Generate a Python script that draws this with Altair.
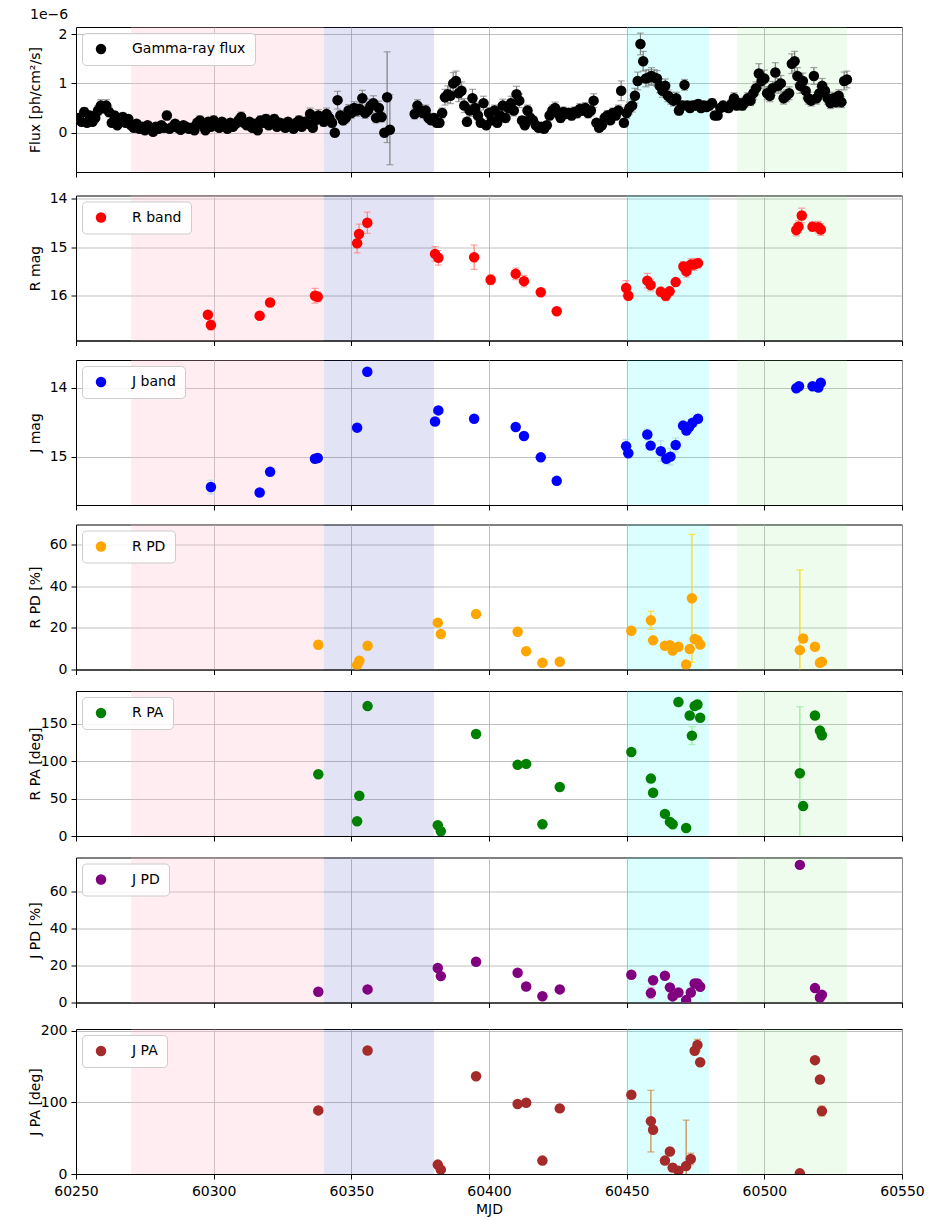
import altair as alt
import pandas as pd

# ------------------------------------------------------------------ data
# Gamma-ray flux (units of 1e-6 ph/cm^2/s), daily bins
flux_mjd = list(range(60251, 60365)) + list(range(60373, 60531))
flux_val = [
    0.30, 0.22, 0.42, 0.20, 0.35, 0.22, 0.30, 0.45, 0.55, 0.50,
    0.55, 0.42, 0.20, 0.35, 0.15, 0.25, 0.32, 0.20, 0.28, 0.15,
    0.10, 0.18, 0.08, 0.12, 0.05, 0.15, 0.10, 0.02, 0.12, 0.08,
    0.15, 0.10, 0.35, 0.08, 0.12, 0.18, 0.10, 0.06, 0.15, 0.12,
    0.08, 0.10, 0.05, 0.20, 0.25, 0.15, 0.05, 0.22, 0.12, 0.25,
    0.18, 0.10, 0.22, 0.15, 0.08, 0.20, 0.12, 0.18, 0.25, 0.32,
    0.20, 0.15, 0.22, 0.10, 0.18, 0.05, 0.25, 0.20, 0.28, 0.15,
    0.22, 0.28, 0.12, 0.20, 0.18, 0.10, 0.22, 0.15, 0.08, 0.20,
    0.25, 0.12, 0.22, 0.18, 0.38, 0.10, 0.25, 0.35, 0.30, 0.22,
    0.38, 0.30, 0.20, 0.00, 0.66, 0.35, 0.25, 0.30, 0.45, 0.40,
    0.50, 0.45, 0.48, 0.70, 0.40, 0.45, 0.55, 0.60, 0.30, 0.50,
    0.32, 0.00, 0.72, 0.06,
    0.38, 0.55, 0.45, 0.40, 0.45, 0.30, 0.25, 0.30,
    0.20, 0.20, 0.40, 0.72, 0.78, 0.75, 1.00, 1.05, 0.80, 0.85,
    0.55, 0.22, 0.45, 0.70, 0.50, 0.35, 0.20, 0.60, 0.15, 0.40,
    0.25, 0.45, 0.20, 0.35, 0.55, 0.30, 0.50, 0.60, 0.45, 0.78,
    0.65, 0.25, 0.15, 0.45, 0.30, 0.25, 0.15, 0.10, 0.12, 0.08,
    0.15, 0.35, 0.45, 0.50, 0.40, 0.30, 0.42, 0.38, 0.40, 0.35,
    0.42, 0.40, 0.48, 0.45, 0.50, 0.40, 0.45, 0.65, 0.20, 0.10,
    0.15, 0.30, 0.35, 0.25, 0.40, 0.35, 0.45, 0.85, 0.20, 0.40,
    0.50, 0.55, 0.75, 1.05, 1.80, 1.45, 1.10, 1.12, 1.15, 1.12,
    1.10, 0.95, 0.85, 0.95, 0.75, 0.70, 0.65, 0.70, 0.45, 0.55,
    0.97, 0.55, 0.50, 0.55, 0.55, 0.58, 0.50, 0.55, 0.52, 0.55,
    0.60, 0.35, 0.35, 0.50, 0.55, 0.52, 0.50, 0.58, 0.70, 0.55,
    0.60, 0.55, 0.62, 0.70, 0.65, 0.80, 0.90, 1.20, 1.05, 1.10,
    0.80, 0.75, 0.90, 1.22, 0.95, 1.00, 0.70, 0.75, 0.80, 1.40,
    1.45, 1.15, 0.95, 1.05, 0.85, 0.70, 0.65, 1.15, 0.70, 0.80,
    0.95, 0.85, 0.70, 0.60, 0.70, 0.62, 0.75, 0.62, 1.05, 1.08,
]
flux_err = [
    0.08, 0.07, 0.09, 0.07, 0.08, 0.07, 0.08, 0.10, 0.12, 0.11,
    0.12, 0.10, 0.07, 0.08, 0.06, 0.07, 0.08, 0.06, 0.07, 0.06,
    0.06, 0.07, 0.06, 0.06, 0.05, 0.06, 0.06, 0.05, 0.06, 0.06,
    0.06, 0.06, 0.09, 0.06, 0.06, 0.07, 0.06, 0.05, 0.06, 0.06,
    0.06, 0.06, 0.05, 0.08, 0.09, 0.07, 0.05, 0.08, 0.06, 0.09,
    0.07, 0.06, 0.08, 0.07, 0.06, 0.08, 0.06, 0.07, 0.09, 0.10,
    0.08, 0.07, 0.08, 0.06, 0.07, 0.05, 0.09, 0.08, 0.09, 0.07,
    0.08, 0.09, 0.06, 0.08, 0.07, 0.06, 0.08, 0.07, 0.06, 0.08,
    0.09, 0.06, 0.08, 0.07, 0.12, 0.06, 0.09, 0.12, 0.10, 0.09,
    0.12, 0.10, 0.09, 0.06, 0.18, 0.10, 0.09, 0.10, 0.12, 0.11,
    0.13, 0.12, 0.12, 0.16, 0.11, 0.12, 0.13, 0.15, 0.10, 0.14,
    0.10, 0.06, 0.92, 0.71,
    0.10, 0.12, 0.11, 0.10, 0.11, 0.09, 0.08, 0.09,
    0.08, 0.08, 0.10, 0.16, 0.17, 0.16, 0.22, 0.20, 0.17, 0.18,
    0.14, 0.08, 0.12, 0.18, 0.12, 0.10, 0.08, 0.14, 0.07, 0.11,
    0.08, 0.11, 0.08, 0.10, 0.13, 0.09, 0.12, 0.14, 0.11, 0.16,
    0.14, 0.08, 0.07, 0.11, 0.09, 0.08, 0.07, 0.06, 0.07, 0.06,
    0.07, 0.09, 0.11, 0.12, 0.10, 0.09, 0.10, 0.09, 0.10, 0.09,
    0.10, 0.10, 0.11, 0.10, 0.11, 0.10, 0.11, 0.14, 0.07, 0.06,
    0.07, 0.09, 0.10, 0.08, 0.10, 0.09, 0.11, 0.20, 0.08, 0.11,
    0.12, 0.13, 0.15, 0.18, 0.22, 0.20, 0.17, 0.16, 0.17, 0.16,
    0.16, 0.14, 0.13, 0.14, 0.12, 0.12, 0.11, 0.12, 0.09, 0.10,
    0.11, 0.09, 0.08, 0.09, 0.09, 0.09, 0.08, 0.09, 0.08, 0.09,
    0.09, 0.07, 0.07, 0.08, 0.09, 0.08, 0.08, 0.09, 0.11, 0.09,
    0.10, 0.09, 0.10, 0.11, 0.10, 0.12, 0.13, 0.20, 0.16, 0.17,
    0.13, 0.12, 0.14, 0.20, 0.15, 0.16, 0.12, 0.12, 0.13, 0.20,
    0.20, 0.17, 0.15, 0.16, 0.14, 0.12, 0.11, 0.17, 0.12, 0.13,
    0.15, 0.14, 0.12, 0.11, 0.12, 0.11, 0.12, 0.11, 0.18, 0.17,
]

# R band photometry
r_mjd = [60297.9, 60299.0, 60316.7, 60320.5, 60336.8, 60337.8, 60352.1, 60352.8,
         60355.8, 60380.4, 60381.6, 60394.6, 60400.6, 60409.7, 60412.7, 60418.8,
         60424.6, 60449.8, 60450.6, 60457.5, 60458.7, 60462.4, 60464.2, 60465.6,
         60467.8, 60470.6, 60471.7, 60473.3, 60474.5, 60475.9, 60511.6, 60512.4,
         60513.6, 60517.5, 60519.6, 60520.5]
r_mag = [16.39, 16.60, 16.41, 16.14, 16.00, 16.02, 14.92, 14.73,
         14.50, 15.14, 15.22, 15.21, 15.67, 15.55, 15.70, 15.93,
         16.32, 15.84, 16.00, 15.69, 15.78, 15.92, 16.00, 15.91,
         15.72, 15.40, 15.50, 15.36, 15.36, 15.33, 14.65, 14.58,
         14.35, 14.58, 14.59, 14.64]
r_mag_err = [0.05, 0.10, 0.04, 0.05, 0.15, 0.10, 0.20, 0.20,
             0.22, 0.15, 0.15, 0.25, 0.10, 0.12, 0.12, 0.05,
             0.03, 0.15, 0.08, 0.15, 0.12, 0.10, 0.10, 0.08,
             0.06, 0.10, 0.12, 0.12, 0.12, 0.10, 0.12, 0.12,
             0.15, 0.10, 0.12, 0.12]

# J band photometry
j_mjd = [60299.0, 60316.7, 60320.5, 60336.8, 60337.8, 60352.1, 60355.8, 60380.4,
         60381.6, 60394.6, 60409.7, 60412.7, 60418.8, 60424.6, 60449.8, 60450.6,
         60457.5, 60458.7, 60462.4, 60464.4, 60465.9, 60467.8, 60470.5, 60471.7,
         60472.7, 60473.9, 60475.9, 60511.6, 60512.6, 60517.5, 60519.6, 60520.5]
j_mag = [15.44, 15.52, 15.22, 15.03, 15.02, 14.58, 13.77, 14.49,
         14.33, 14.45, 14.57, 14.70, 15.01, 15.35, 14.85, 14.95,
         14.68, 14.84, 14.92, 15.03, 15.00, 14.83, 14.55, 14.62,
         14.57, 14.51, 14.45, 14.01, 13.98, 13.98, 14.00, 13.93]
j_mag_err = [0.10, 0.03, 0.02, 0.02, 0.02, 0.06, 0.02, 0.02,
             0.03, 0.02, 0.02, 0.02, 0.02, 0.03, 0.10, 0.03,
             0.08, 0.03, 0.15, 0.08, 0.12, 0.10, 0.05, 0.04,
             0.03, 0.03, 0.02, 0.02, 0.02, 0.02, 0.02, 0.02]

# R band polarimetry
rpol_mjd = [60338.0, 60352.1, 60352.9, 60355.9, 60381.4, 60382.5, 60395.3, 60410.4,
            60413.5, 60419.4, 60425.7, 60451.7, 60458.8, 60459.6, 60463.9, 60465.7,
            60466.7, 60468.8, 60471.6, 60472.9, 60473.7, 60474.7, 60475.7, 60476.7,
            60512.9, 60514.1, 60518.4, 60520.2, 60520.9]
r_pd = [11.9, 2.1, 4.2, 11.4, 22.5, 17.0, 26.6, 18.1,
        8.8, 3.2, 3.7, 18.6, 23.6, 14.0, 11.4, 11.7,
        9.1, 10.9, 2.4, 9.8, 34.2, 14.6, 14.1, 12.0,
        9.3, 14.9, 10.9, 3.2, 3.7]
r_pd_err = [0.5, 0.5, 0.5, 0.5, 0.5, 0.5, 0.5, 0.5,
            0.5, 0.5, 0.5, 0.8, 4.4, 0.8, 0.6, 0.6,
            0.6, 0.6, 0.8, 0.8, 30.7, 1.0, 1.0, 0.8,
            38.5, 0.8, 0.6, 0.6, 0.6]
r_pa = [82.6, 19.8, 53.9, 173.8, 14.4, 6.3, 136.5, 95.2,
        96.5, 15.7, 65.6, 112.3, 76.8, 57.9, 29.6, 18.9,
        15.7, 179.2, 10.8, 161.2, 134.3, 173.8, 176.0, 158.1,
        84.0, 40.0, 161.2, 141.0, 134.7]
r_pa_err = [1, 3, 2, 1, 1, 1, 1, 1,
            1, 2, 2, 1, 4, 2, 2, 2,
            2, 2, 3, 3, 12, 3, 6, 2,
            89, 2, 2, 2, 2]

# J band polarimetry
jpol_mjd = [60338.0, 60355.9, 60381.4, 60382.5, 60395.3, 60410.4, 60413.5, 60419.4,
            60425.7, 60451.7, 60458.8, 60459.6, 60463.9, 60465.7, 60466.7, 60468.8,
            60471.6, 60473.3, 60474.7, 60475.7, 60476.7, 60512.9, 60518.4, 60520.2,
            60520.9]
j_pd = [5.8, 7.1, 18.7, 14.3, 22.1, 16.1, 8.7, 3.4,
        7.1, 15.0, 5.1, 12.1, 14.5, 8.2, 3.3, 5.4,
        1.3, 5.4, 10.3, 10.3, 8.5, 74.6, 7.8, 2.7,
        4.2]
j_pd_err = [0.5, 0.5, 0.6, 0.6, 0.6, 0.5, 0.5, 0.5,
            0.5, 0.8, 3.0, 2.0, 1.5, 1.0, 1.0, 1.0,
            1.0, 1.0, 1.0, 1.0, 1.0, 1.5, 0.8, 0.8,
            0.8]
j_pa = [88.8, 172.4, 13.1, 6.1, 136.4, 97.7, 99.5, 18.7,
        91.6, 110.7, 73.8, 61.7, 18.7, 31.3, 8.9, 4.7,
        11.2, 21.0, 172.0, 180.0, 156.0, 0.9, 158.9, 131.8,
        87.9]
j_pa_err = [2, 2, 2, 2, 2, 2, 2, 2,
            2, 2, 43, 3, 3, 3, 5, 3,
            64, 8, 3, 8, 3, 1, 2, 2,
            7]

# Shaded periods
region_start = [60270, 60340, 60450, 60490]
region_end = [60340, 60380, 60480, 60530]

x_ticks = [60250, 60300, 60350, 60400, 60450, 60500, 60550]

# ------------------------------------------------------------------ style
FONT = "DejaVu Sans"
W, H = 826, 145
X_DOMAIN = [60250, 60550]
REGION_FILL = ["#ffc0cb", "#4444c3", "#00ffff", "#90ee90"]
REGION_OPACITY = [0.28, 0.15, 0.14, 0.15]


def make_df(mjd, val, err, label):
    return pd.DataFrame({
        "mjd": mjd,
        "val": val,
        "lo": [v - e for v, e in zip(val, err)],
        "hi": [v + e for v, e in zip(val, err)],
        "series": label,
    })


def xenc(field, bottom):
    return alt.X(
        f"{field}:Q",
        scale=alt.Scale(domain=X_DOMAIN, nice=False, zero=False),
        axis=alt.Axis(values=x_ticks, format="d", labels=bottom, labelPadding=5,
                      title="MJD" if bottom else None, titlePadding=4,
                      labelFlush=False),
    )


def yenc(field, ytitle, ydom, yticks, rev):
    return alt.Y(
        f"{field}:Q",
        scale=alt.Scale(domain=ydom, nice=False, zero=False, reverse=rev),
        axis=alt.Axis(values=yticks, format="d", title=ytitle, titleX=-34,
                      labelPadding=4),
    )


def panel(df, label, color, errcolor, ytitle, ydom, yticks, rev=False,
          bottom=False, title=None):
    layers = []
    for i in range(len(region_start)):
        rdf = pd.DataFrame({"start": [region_start[i]], "end": [region_end[i]]})
        layers.append(
            alt.Chart(rdf).mark_rect(color=REGION_FILL[i], opacity=REGION_OPACITY[i])
            .encode(x=xenc("start", bottom), x2="end:Q",
                    y=alt.value(0), y2=alt.value(H))
        )
    base = alt.Chart(df)
    layers.append(
        base.mark_rule(color=errcolor, strokeWidth=1.2, clip=True)
        .encode(x=xenc("mjd", bottom), y=yenc("lo", ytitle, ydom, yticks, rev), y2="hi:Q")
    )
    for f in ("lo", "hi"):
        layers.append(
            base.mark_tick(color=errcolor, orient="horizontal", size=7, thickness=1.2, clip=True)
            .encode(x=xenc("mjd", bottom), y=yenc(f, ytitle, ydom, yticks, rev))
        )
    layers.append(
        base.mark_circle(size=110, opacity=1, clip=True)
        .encode(
            x=xenc("mjd", bottom),
            y=yenc("val", ytitle, ydom, yticks, rev),
            color=alt.Color(
                "series:N",
                scale=alt.Scale(domain=[label], range=[color]),
                legend=alt.Legend(
                    title=None, orient="top-left", offset=6, padding=9,
                    fillColor="rgba(255,255,255,0.85)", strokeColor="#cccccc",
                    cornerRadius=4, labelFontSize=14, labelFont=FONT,
                    labelColor="black", symbolType="circle", symbolSize=110,
                    symbolStrokeWidth=0, symbolOffset=3, labelOffset=24,
                ),
            ),
        )
    )
    props = dict(width=W, height=H)
    if title is not None:
        props["title"] = title
    return alt.layer(*layers).properties(**props)


flux_df = make_df(flux_mjd, flux_val, flux_err, "Gamma-ray flux")
r_df = make_df(r_mjd, r_mag, r_mag_err, "R band")
j_df = make_df(j_mjd, j_mag, j_mag_err, "J band")
rpd_df = make_df(rpol_mjd, r_pd, r_pd_err, "R PD")
rpa_df = make_df(rpol_mjd, r_pa, r_pa_err, "R PA")
jpd_df = make_df(jpol_mjd, j_pd, j_pd_err, "J PD")
jpa_df = make_df(jpol_mjd, j_pa, j_pa_err, "J PA")

title1 = alt.TitleParams(text="1e\u22126", anchor="start", fontSize=14,
                         fontWeight="normal", font=FONT, color="black",
                         offset=5, dx=2)

panels = [
    panel(flux_df, "Gamma-ray flux", "black", "#808080", "Flux [ph/cm\u00b2/s]",
          [-0.797, 2.144], [0, 1, 2], title=title1),
    panel(r_df, "R band", "red", "#ff8080", "R mag", [13.94, 16.92], [14, 15, 16], rev=True),
    panel(j_df, "J band", "blue", "#add8e6", "J mag", [13.60, 15.70], [14, 15], rev=True),
    panel(rpd_df, "R PD", "orange", "gold", "R PD [%]", [0, 69.6], [0, 20, 40, 60]),
    panel(rpa_df, "R PA", "green", "lightgreen", "R PA [deg]", [0, 194], [0, 50, 100, 150]),
    panel(jpd_df, "J PD", "purple", "violet", "J PD [%]", [0, 78.6], [0, 20, 40, 60]),
    panel(jpa_df, "J PA", "brown", "peru", "J PA [deg]", [0, 202.4], [0, 100, 200], bottom=True),
]

chart = (
    alt.vconcat(*panels, spacing=12.5)
    .resolve_scale(y="independent", color="independent")
    .resolve_legend(color="independent")
    .properties(padding={"left": 27, "top": 7, "right": 3, "bottom": 2})
    .configure_view(stroke="black", strokeWidth=1)
    .configure_axis(
        labelFont=FONT, titleFont=FONT, labelFontSize=14, titleFontSize=14,
        titleFontWeight="normal", labelColor="black", titleColor="black",
        tickColor="black", tickSize=5, domainColor="black",
        gridColor="#b0b0b0", gridWidth=0.8, grid=True,
    )
)

chart.save("out.html", embed_options={"renderer": "svg", "actions": False})
